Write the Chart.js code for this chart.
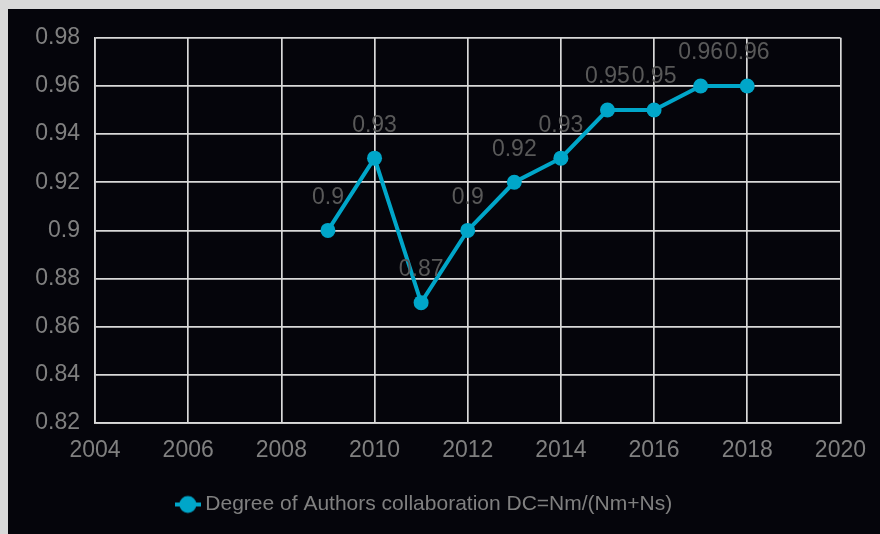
<!DOCTYPE html>
<html>
<head>
<meta charset="utf-8">
<script src="https://cdn.jsdelivr.net/npm/chart.js@4.4.1/dist/chart.umd.min.js"></script>
<style>
  html, body { margin: 0; padding: 0; background: #d9d9d9; }
  #wrap { position: absolute; left: 8px; top: 9px; width: 872px; height: 525px; background: #05050b; }
</style>
</head>
<body>
<div id="wrap"><canvas id="dc-chart" width="872" height="525"></canvas></div>
<script>
const years = [2009, 2010, 2011, 2012, 2013, 2014, 2015, 2016, 2017, 2018];
const dcValues = [0.9, 0.93, 0.87, 0.9, 0.92, 0.93, 0.95, 0.95, 0.96, 0.96];
const seriesName = 'Degree of Authors collaboration DC=Nm/(Nm+Ns)';
const xTicks = [2004, 2006, 2008, 2010, 2012, 2014, 2016, 2018, 2020];
const yTicks = [0.82, 0.84, 0.86, 0.88, 0.9, 0.92, 0.94, 0.96, 0.98];

const lineColor = '#00a6c9';
const gridColor = '#d9d9d9';
const fontFamily = '"Liberation Sans", Arial, sans-serif';

// legend marker: a short line with a dot on it
const marker = document.createElement('canvas');
marker.width = 26;
marker.height = 20;
const mctx = marker.getContext('2d');
mctx.strokeStyle = lineColor;
mctx.lineWidth = 4;
mctx.beginPath();
mctx.moveTo(0, 10);
mctx.lineTo(26, 10);
mctx.stroke();
mctx.fillStyle = lineColor;
mctx.beginPath();
mctx.arc(13, 10, 8.5, 0, Math.PI * 2);
mctx.fill();

// value labels above each point
const valueLabels = {
  id: 'valueLabels',
  afterDatasetsDraw(chart) {
    const ctx = chart.ctx;
    const meta = chart.getDatasetMeta(0);
    ctx.save();
    ctx.font = '23px ' + fontFamily;
    ctx.fillStyle = '#595959';
    ctx.textAlign = 'center';
    ctx.textBaseline = 'middle';
    meta.data.forEach((pt, i) => {
      ctx.fillText(String(dcValues[i]), pt.x, pt.y - 33);
    });
    ctx.restore();
  }
};

new Chart(document.getElementById('dc-chart'), {
  type: 'line',
  data: {
    datasets: [{
      label: seriesName,
      data: years.map((y, i) => ({ x: y, y: dcValues[i] })),
      borderColor: lineColor,
      backgroundColor: lineColor,
      borderWidth: 4,
      pointRadius: 7.5,
      pointHoverRadius: 7.5,
      pointBorderWidth: 0,
      tension: 0
    }]
  },
  options: {
    responsive: false,
    animation: false,
    layout: { padding: { top: 27, right: 35, left: 0, bottom: 9 } },
    scales: {
      x: {
        type: 'linear',
        min: xTicks[0],
        max: xTicks[xTicks.length - 1],
        afterBuildTicks: axis => { axis.ticks = xTicks.map(v => ({ value: v })); },
        afterFit: axis => { axis.height = 61; },
        grid: { color: gridColor, lineWidth: 1.7, drawTicks: false },
        border: { color: gridColor, width: 1.7 },
        ticks: {
          color: '#808080',
          font: { family: fontFamily, size: 23 },
          padding: 14,
          maxRotation: 0,
          callback: v => String(v)
        }
      },
      y: {
        min: yTicks[0],
        max: yTicks[yTicks.length - 1],
        afterBuildTicks: axis => { axis.ticks = yTicks.map(v => ({ value: v })); },
        afterFit: axis => { axis.width = 87; },
        grid: { color: gridColor, lineWidth: 1.7, drawTicks: false },
        border: { color: gridColor, width: 1.7 },
        ticks: {
          color: '#808080',
          font: { family: fontFamily, size: 23 },
          padding: 15,
          callback: v => String(+v.toFixed(2))
        }
      }
    },
    plugins: {
      legend: {
        position: 'bottom',
        labels: {
          color: '#808080',
          font: { family: fontFamily, size: 21 },
          usePointStyle: true,
          pointStyleWidth: 14,
          generateLabels: chart => {
            const items = Chart.defaults.plugins.legend.labels.generateLabels(chart);
            items.forEach(it => { it.pointStyle = marker; });
            return items;
          }
        }
      },
      tooltip: { enabled: false }
    }
  },
  plugins: [valueLabels]
});
</script>
</body>
</html>
